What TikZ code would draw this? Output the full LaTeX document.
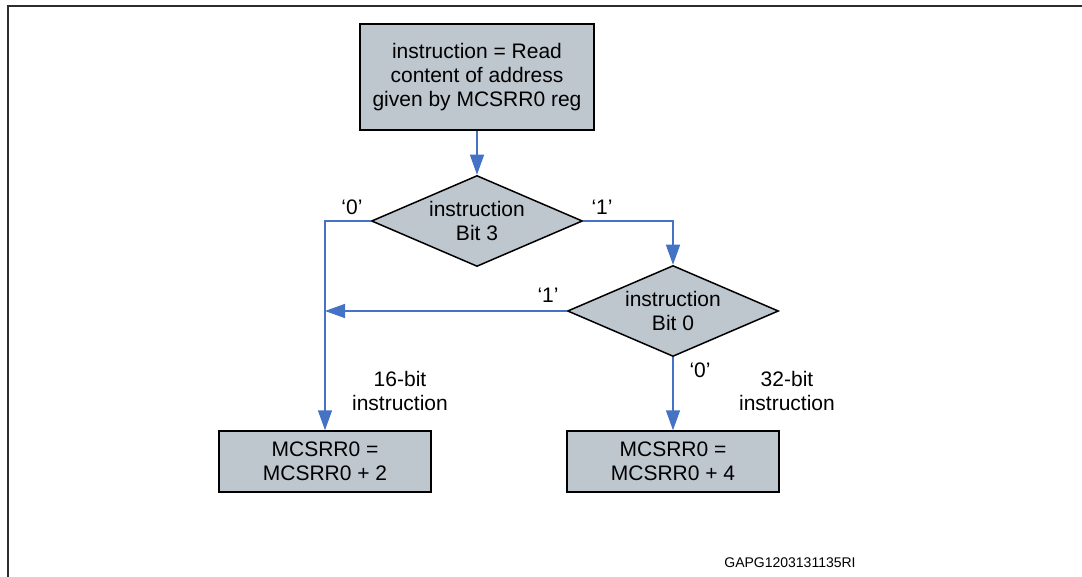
\documentclass[tikz,border=0pt]{standalone}
\usepackage{fontspec}
\setmainfont{Liberation Sans}
\usetikzlibrary{shapes.geometric,arrows.meta}
\definecolor{boxfill}{RGB}{190,198,206}
\definecolor{arrowblue}{RGB}{68,114,196}
\definecolor{framegray}{RGB}{45,45,45}
\begin{document}
\begin{tikzpicture}[x=1pt,y=-1pt,
  txt/.style={font=\fontsize{21}{24}\selectfont},
  proc/.style={txt,draw=black,line width=1.5pt,fill=boxfill,align=center,inner sep=0pt,minimum width=212pt,minimum height=61pt},
  decision/.style={txt,diamond,draw=black,line width=1.5pt,fill=boxfill,align=center,inner sep=0pt,minimum width=211pt,minimum height=91pt,aspect=2.32},
  arr/.style={draw=arrowblue,line width=1.5pt,-{Triangle[length=20pt,width=14pt]}},
  lbl/.style={txt,inner sep=0pt,align=center},
  framestyle/.style={draw=framegray,line width=2pt}
]
\useasboundingbox (0,0) rectangle (1082,577);
\draw[framestyle] (8,577) -- (8,6) -- (1082,6);

\node[proc,minimum width=234pt,minimum height=106pt] (top) at (477,77) {instruction = Read\\content of address\\given by MCSRR0 reg};
\node[decision] (d1) at (477,221) {instruction\\Bit 3};
\node[decision] (d2) at (673,311) {instruction\\Bit 0};
\node[proc] (b1) at (325,461.5) {MCSRR0 =\\MCSRR0 + 2};
\node[proc] (b2) at (673,461.5) {MCSRR0 =\\MCSRR0 + 4};

\draw[arr] (top.south) -- (d1.north);
\draw[arr] (d1.west) -| (b1.north);
\draw[arr] (d1.east) -| (d2.north);
\draw[arr] (d2.west) -- (d2.west -| b1.north);
\draw[arr] (d2.south) -- (b2.north);

\node[lbl] (l0a) at (352,207) {‘0’};
\node[lbl] (l1a) at (602,207) {‘1’};
\node[lbl] (l1b) at (548,295) {‘1’};
\node[lbl] (l0b) at (700,370) {‘0’};
\node[lbl] (t16) at (400,391) {16-bit\\instruction};
\node[lbl] (t32) at (787,391) {32-bit\\instruction};
\node[inner sep=0pt,font=\fontsize{14}{16}\selectfont] (code) at (790,563) {GAPG1203131135RI};
\end{tikzpicture}
\end{document}
